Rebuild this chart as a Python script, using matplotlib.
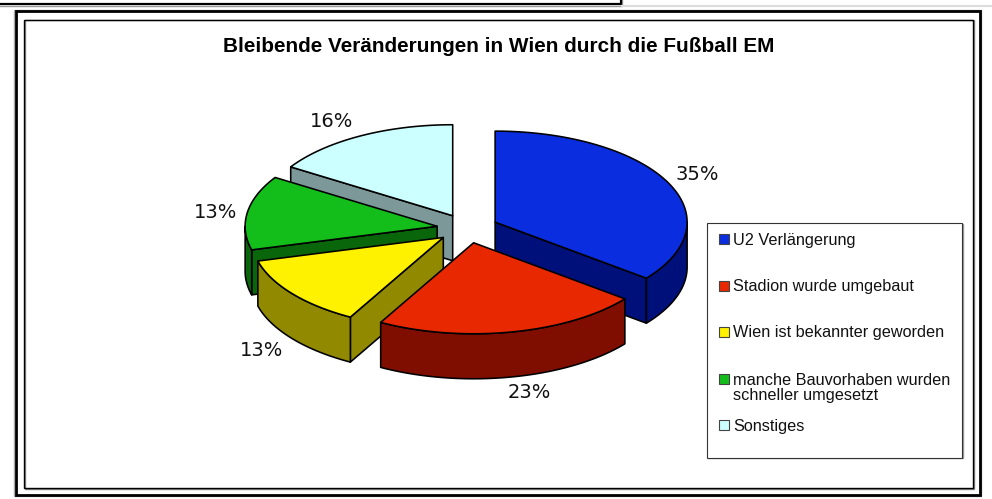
import numpy as np
import matplotlib
matplotlib.use("Agg")
import matplotlib.pyplot as plt
from matplotlib.patches import Polygon, Rectangle

# Data
title = "Bleibende Veränderungen in Wien durch die Fußball EM"
categories = ["U2 Verlängerung", "Stadion wurde umgebaut", "Wien ist bekannter geworden",
              "manche Bauvorhaben wurden\nschneller umgesetzt", "Sonstiges"]
shares = [35.6, 22.5, 12.8, 13.2, 16.0]
pct_labels = ["35%", "23%", "13%", "13%", "16%"]

# Styles
top_colors = ["#0A2DE0", "#E82800", "#FFF200", "#14BE1A", "#CCFFFF"]
wall_colors = ["#00107A", "#800E00", "#918A00", "#0A660A", "#7C9898"]
label_pos = [(697, 174), (529, 393), (262, 350), (216, 212), (332, 121)]
legend_y = [239, 286, 332, 379, 425]
legend_text_y = [240, 286.5, 333, 388, 426]
draw_order = [4, 3, 2, 0, 1]
CX, CY, RX, RY, DEPTH, EXPLODE = 467.5, 228.5, 192, 91, 45, 0.16

fig = plt.figure(figsize=(9.92, 4.99), dpi=100)
ax = fig.add_axes([0, 0, 1, 1])
ax.set_xlim(0, 992)
ax.set_ylim(499, 0)
ax.axis("off")
LW = 1.15


def frame(x0, y0, x1, y1, color, lw, z=1, fc="none"):
    ax.add_patch(Rectangle((x0, y0), x1 - x0, y1 - y0, fc=fc, ec=color, lw=lw, zorder=z))


# Page fragments and frames
ax.plot([0, 621.5, 621.5], [5.5, 5.5, 0], color="#999999", lw=1.0, zorder=1)
ax.plot([0, 620.5, 620.5], [4, 4, 0], color="black", lw=1.6, zorder=2)
ax.plot([622, 992], [5.5, 5.5], color="#DDDDDD", lw=1.5, zorder=1)
frame(14, 9.5, 981, 496, "#AAAAAA", 1.0)
frame(16, 11, 980, 495, "black", 2.0, z=2)
frame(24.5, 20, 973.5, 488.5, "#888888", 1.0)
frame(24, 19.5, 972.5, 487.5, "black", 1.0, z=2)

ax.text(499, 46, title, family="Liberation Sans", weight="bold", fontsize=14.95,
        ha="center", va="center", color="black")

# Pie geometry comes from the shares
edges = np.cumsum([0] + shares) / sum(shares) * 360.0


def ell(theta):
    t = np.radians(theta)
    return np.sin(t) * RX, -np.cos(t) * RY


def wall_visible(theta, mid):
    dx, dy = ell(theta)
    mx, my = ell(mid)
    if abs(dx) < 1e-6:
        return False
    return my * 1.0 < dy / dx * mx


for i in draw_order:
    a0, a1 = edges[i], edges[i + 1]
    mid = (a0 + a1) / 2
    ox, oy = ell(mid)
    ax_, ay_ = CX + EXPLODE * ox, CY + EXPLODE * oy
    # radial walls
    for th in (a0, a1):
        if wall_visible(th, mid):
            dx, dy = ell(th)
            pts = [(ax_, ay_), (ax_ + dx, ay_ + dy), (ax_ + dx, ay_ + dy + DEPTH), (ax_, ay_ + DEPTH)]
            ax.add_patch(Polygon(pts, closed=True, fc=wall_colors[i], ec="black", lw=LW, joinstyle="round", zorder=3))
    # outer wall (front half only)
    lo, hi = max(a0, 90), min(a1, 270)
    if lo < hi:
        th = np.linspace(lo, hi, 80)
        xs, ys = ell(th)
        xs = ax_ + xs
        ys = ay_ + ys
        pts = np.r_[np.c_[xs, ys], np.c_[xs[::-1], ys[::-1] + DEPTH]]
        ax.add_patch(Polygon(pts, closed=True, fc=wall_colors[i], ec="black", lw=LW, joinstyle="round", zorder=3))
    # top face
    th = np.linspace(a0, a1, 120)
    xs, ys = ell(th)
    pts = np.r_[[(ax_, ay_)], np.c_[ax_ + xs, ay_ + ys]]
    ax.add_patch(Polygon(pts, closed=True, fc=top_colors[i], ec="black", lw=LW, joinstyle="round", zorder=3))

for s, (x, y) in zip(pct_labels, label_pos):
    ax.text(x, y, s, family="DejaVu Sans", fontsize=14, ha="center", va="center", color="#111111", zorder=5)

# Legend
frame(707.5, 224, 962.5, 458, "#999999", 1.0, z=4)
frame(707, 223, 962, 457.5, "#333333", 0.8, z=4, fc="white")
for name, col, ys, yt in zip(categories, top_colors, legend_y, legend_text_y):
    ax.add_patch(Rectangle((718.5, ys - 5), 10.5, 10, fc=col, ec="#444444", lw=0.8, zorder=5))
    ax.text(733, yt, name, family="Liberation Sans", fontsize=11.7, ha="left", va="center",
            color="#111111", linespacing=1.0, zorder=5)

fig.savefig("out.png", dpi=100)
